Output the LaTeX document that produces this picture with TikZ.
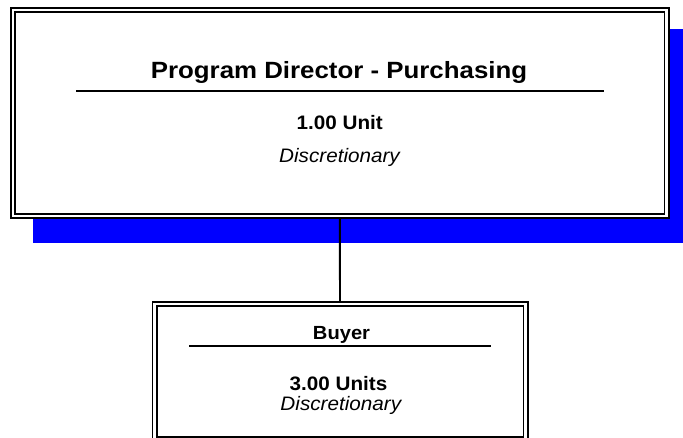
\documentclass[tikz,border=0pt]{standalone}
\usepackage{fontspec}
\setmainfont{Liberation Sans}
\newfontfamily\titlefont[FakeStretch=1.1]{Liberation Sans}
\newfontfamily\bodyfont[FakeStretch=1.06]{Liberation Sans}
\definecolor{shadowblue}{RGB}{0,0,255}
\begin{document}
\begin{tikzpicture}[x=1pt,y=-1pt,
  box/.style={draw=black, fill=white, double=white, line width=1.8pt,
    double distance=2.4pt, inner sep=0pt, outer sep=0pt},
  rulestroke/.style={line width=2pt},
  connector/.style={line width=1.9pt, shorten <=3pt, shorten >=3pt},
  txt/.style={anchor=base, inner sep=0pt},
  titletxt/.style={txt, font=\titlefont\bfseries\fontsize{23.5}{28}\selectfont},
  boldtxt/.style={txt, font=\bodyfont\bfseries\fontsize{19.5}{23}\selectfont},
  itxt/.style={txt, font=\bodyfont\itshape\fontsize{19.5}{23}\selectfont}]
\useasboundingbox (0,0) rectangle (683,438);
% shadow
\fill[shadowblue] (33,29) rectangle (683,243);
% boxes
\node[box, minimum width=653.7pt, minimum height=205.8pt] (director) at (339.8,112.9) {};
\node[box, minimum width=371pt, minimum height=135.4pt] (buyer) at (340,371.5) {};
% connector
\draw[connector] (director.south) -- (buyer.north);
% top box texts
\node[titletxt] (dirtitle) at (339,78.3) {Program Director - Purchasing};
\draw[rulestroke] (76,90.7) -- (604,90.7);
\node[boldtxt] (dirunits) at (339.8,129.3) {1.00 Unit};
\node[itxt] (dirkind) at (339.5,162.7) {Discretionary};
% bottom box texts
\node[boldtxt, font=\bodyfont\bfseries\fontsize{19}{23}\selectfont] (buyertitle) at (341.5,339.5) {Buyer};
\draw[rulestroke] (189,346) -- (491,346);
\node[boldtxt] (buyerunits) at (338.5,390) {3.00 Units};
\node[itxt] (buyerkind) at (340.8,410) {Discretionary};
\end{tikzpicture}
\end{document}
